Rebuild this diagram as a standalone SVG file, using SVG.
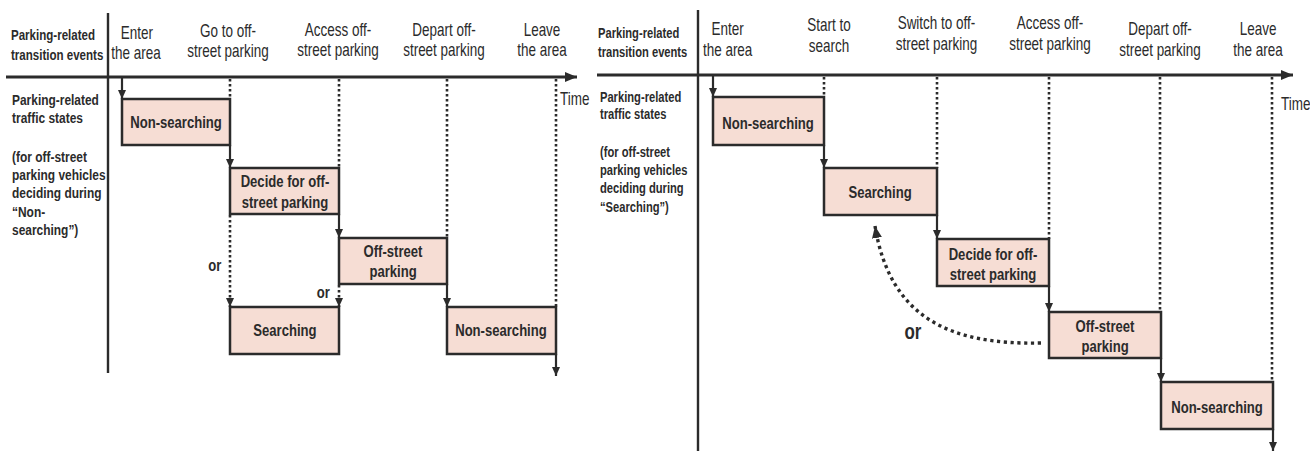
<svg xmlns="http://www.w3.org/2000/svg" width="1310" height="451" viewBox="0 0 1310 451">
<defs>
<style>
.bg{fill:#ffffff}
.box{fill:#f6ddd4;stroke:#2b2b2b;stroke-width:2.5}
.axis{stroke:#2b2b2b;stroke-width:3;fill:none}
.vax{stroke:#2b2b2b;stroke-width:2.4;fill:none}
.solid{stroke:#2b2b2b;stroke-width:2.2;fill:none;marker-end:url(#ah)}
.dot{stroke:#2b2b2b;stroke-width:2.6;stroke-dasharray:2.4 2.6;fill:none}
.dotarr{stroke:#2b2b2b;stroke-width:2.6;stroke-dasharray:2.4 2.6;fill:none;marker-end:url(#ah)}
.curve{stroke:#2b2b2b;stroke-width:3.4;stroke-dasharray:3.2 3.6;fill:none;marker-end:url(#ah2)}
text{font-family:"Liberation Sans",Arial,sans-serif;fill:#2b2b2b}
.ev{font-size:17.5px;text-anchor:middle}
.tm{font-size:17.5px}
.hd{font-size:15px;font-weight:bold}
.hd2{font-size:14.5px;font-weight:bold}
.bx{font-size:17px;font-weight:bold;text-anchor:middle}
.or{font-size:17px;font-weight:bold;text-anchor:middle}
.or2{font-size:22px;font-weight:bold;text-anchor:middle}
</style>
<marker id="ah" viewBox="0 0 10 10" refX="10" refY="5" markerWidth="9" markerHeight="8" markerUnits="userSpaceOnUse" orient="auto" preserveAspectRatio="none"><path d="M0,0 L10,5 L0,10 z" fill="#2b2b2b"/></marker>
<marker id="ah2" viewBox="0 0 10 10" refX="10" refY="5" markerWidth="12" markerHeight="10" markerUnits="userSpaceOnUse" orient="auto" preserveAspectRatio="none"><path d="M0,0 L10,5 L0,10 z" fill="#2b2b2b"/></marker>
<marker id="ax" viewBox="0 0 10 10" refX="10" refY="5" markerWidth="12" markerHeight="10" markerUnits="userSpaceOnUse" orient="auto" preserveAspectRatio="none"><path d="M0,0 L10,5 L0,10 z" fill="#2b2b2b"/></marker>
</defs>
<rect class="bg" x="0" y="0" width="1310" height="451"/>

<!-- LEFT DIAGRAM -->
<g id="left-axes">
<line class="vax" x1="108" y1="13" x2="108" y2="373"/>
<line class="axis" x1="6" y1="77" x2="577" y2="77" marker-end="url(#ax)"/>
</g>
<g id="left-labels" transform="scale(0.77 1)">
<text class="hd" x="14.3" y="40">Parking-related</text>
<text class="hd" x="14.3" y="60">transition events</text>
<text class="ev" x="177.9" y="39">Enter</text>
<text class="ev" x="176.6" y="59">the area</text>
<text class="ev" x="296.1" y="37">Go to off-</text>
<text class="ev" x="296.1" y="57">street parking</text>
<text class="ev" x="439" y="36">Access off-</text>
<text class="ev" x="439" y="56">street parking</text>
<text class="ev" x="576.6" y="36">Depart off-</text>
<text class="ev" x="576.6" y="56">street parking</text>
<text class="ev" x="703.9" y="36">Leave</text>
<text class="ev" x="703.9" y="56">the area</text>
<text class="tm" x="727.3" y="105">Time</text>
<text class="hd" x="15.6" y="105" style="font-size:15.5px">Parking-related</text>
<text class="hd" x="15.6" y="123" style="font-size:15.5px">traffic states</text>
<text class="hd" x="15.6" y="162" style="font-size:15.5px">(for off-street</text>
<text class="hd" x="15.6" y="180" style="font-size:15.5px">parking vehicles</text>
<text class="hd" x="15.6" y="198" style="font-size:15.5px">deciding during</text>
<text class="hd" x="15.6" y="217" style="font-size:15.5px">“Non-</text>
<text class="hd" x="15.6" y="235" style="font-size:15.5px">searching”)</text>
</g>

<g id="L-nonsearching1">
<rect class="box" x="122" y="99" width="108" height="46"/>
<text class="bx" transform="scale(0.77 1)" x="228.6" y="128">Non-searching</text>
</g>
<g id="L-decide">
<rect class="box" x="230" y="168" width="109" height="46"/>
<text class="bx" transform="scale(0.77 1)" x="370.1" y="187">Decide for off-</text>
<text class="bx" transform="scale(0.77 1)" x="370.1" y="208">street parking</text>
</g>
<g id="L-offstreet">
<rect class="box" x="339" y="238" width="108" height="46"/>
<text class="bx" transform="scale(0.77 1)" x="510.4" y="257">Off-street</text>
<text class="bx" transform="scale(0.77 1)" x="510.4" y="277">parking</text>
</g>
<g id="L-searching">
<rect class="box" x="230" y="307" width="109" height="47"/>
<text class="bx" transform="scale(0.77 1)" x="370.1" y="336">Searching</text>
</g>
<g id="L-nonsearching2">
<rect class="box" x="447" y="307" width="109" height="47"/>
<text class="bx" transform="scale(0.77 1)" x="650.6" y="336">Non-searching</text>
</g>

<g id="L-connectors">
<line class="solid" x1="122" y1="78" x2="122" y2="99"/>
<line class="solid" x1="230" y1="145" x2="230" y2="168"/>
<line class="solid" x1="339" y1="214" x2="339" y2="238"/>
<line class="solid" x1="447" y1="284" x2="447" y2="307"/>
<line class="solid" x1="556" y1="354" x2="556" y2="376"/>
<line class="dot" x1="230" y1="79" x2="230" y2="99"/>
<line class="dot" x1="339" y1="79" x2="339" y2="168"/>
<line class="dot" x1="447" y1="79" x2="447" y2="238"/>
<line class="dot" x1="556" y1="79" x2="556" y2="307"/>
<line class="dotarr" x1="230" y1="215" x2="230" y2="307"/>
<line class="dotarr" x1="339" y1="285" x2="339" y2="307"/>
<text class="or" transform="scale(0.77 1)" x="279" y="271">or</text>
<text class="or" transform="scale(0.77 1)" x="420" y="298">or</text>
</g>

<!-- RIGHT DIAGRAM -->
<g id="right-axes">
<line class="vax" x1="698" y1="10" x2="698" y2="451"/>
<line class="axis" x1="597" y1="75" x2="1293" y2="75" marker-end="url(#ax)"/>
</g>
<g id="right-labels" transform="scale(0.77 1)">
<text class="hd2" x="776.6" y="38">Parking-related</text>
<text class="hd2" x="776.6" y="57">transition events</text>
<text class="ev" x="945" y="35">Enter</text>
<text class="ev" x="945" y="56">the area</text>
<text class="ev" x="1076.6" y="31">Start to</text>
<text class="ev" x="1076.6" y="52">search</text>
<text class="ev" x="1216.2" y="29">Switch to off-</text>
<text class="ev" x="1216.2" y="50">street parking</text>
<text class="ev" x="1363.6" y="29">Access off-</text>
<text class="ev" x="1363.6" y="50">street parking</text>
<text class="ev" x="1506.5" y="35">Depart off-</text>
<text class="ev" x="1506.5" y="56">street parking</text>
<text class="ev" x="1633.8" y="35">Leave</text>
<text class="ev" x="1633.8" y="56">the area</text>
<text class="tm" x="1663.6" y="110">Time</text>
<text class="hd2" x="779.2" y="102">Parking-related</text>
<text class="hd2" x="779.2" y="119">traffic states</text>
<text class="hd2" x="779.2" y="157">(for off-street</text>
<text class="hd2" x="779.2" y="175">parking vehicles</text>
<text class="hd2" x="779.2" y="193">deciding during</text>
<text class="hd2" x="779.2" y="212">“Searching”)</text>
</g>

<g id="R-nonsearching1">
<rect class="box" x="713" y="97" width="111" height="48"/>
<text class="bx" transform="scale(0.77 1)" x="997.4" y="129">Non-searching</text>
</g>
<g id="R-searching">
<rect class="box" x="824" y="168" width="113" height="47"/>
<text class="bx" transform="scale(0.77 1)" x="1142.9" y="198">Searching</text>
</g>
<g id="R-decide">
<rect class="box" x="937" y="239" width="112" height="47"/>
<text class="bx" transform="scale(0.77 1)" x="1289.6" y="260">Decide for off-</text>
<text class="bx" transform="scale(0.77 1)" x="1289.6" y="280">street parking</text>
</g>
<g id="R-offstreet">
<rect class="box" x="1049" y="312" width="112" height="46"/>
<text class="bx" transform="scale(0.77 1)" x="1435.1" y="332">Off-street</text>
<text class="bx" transform="scale(0.77 1)" x="1435.1" y="352">parking</text>
</g>
<g id="R-nonsearching2">
<rect class="box" x="1161" y="382" width="112" height="47"/>
<text class="bx" transform="scale(0.77 1)" x="1580.5" y="413">Non-searching</text>
</g>

<g id="R-connectors">
<line class="solid" x1="713" y1="76" x2="713" y2="97"/>
<line class="solid" x1="824" y1="145" x2="824" y2="168"/>
<line class="solid" x1="937" y1="215" x2="937" y2="239"/>
<line class="solid" x1="1049" y1="286" x2="1049" y2="312"/>
<line class="solid" x1="1161" y1="358" x2="1161" y2="382"/>
<line class="solid" x1="1273" y1="429" x2="1273" y2="451"/>
<line class="dot" x1="824" y1="77" x2="824" y2="97"/>
<line class="dot" x1="937" y1="77" x2="937" y2="168"/>
<line class="dot" x1="1049" y1="77" x2="1049" y2="239"/>
<line class="dot" x1="1160" y1="77" x2="1160" y2="312"/>
<line class="dot" x1="1272" y1="77" x2="1272" y2="382"/>
<path class="curve" d="M1041,343 C950,345 890,318 875,226"/>
<text class="or2" transform="scale(0.77 1)" x="1185.7" y="339">or</text>
</g>
</svg>
